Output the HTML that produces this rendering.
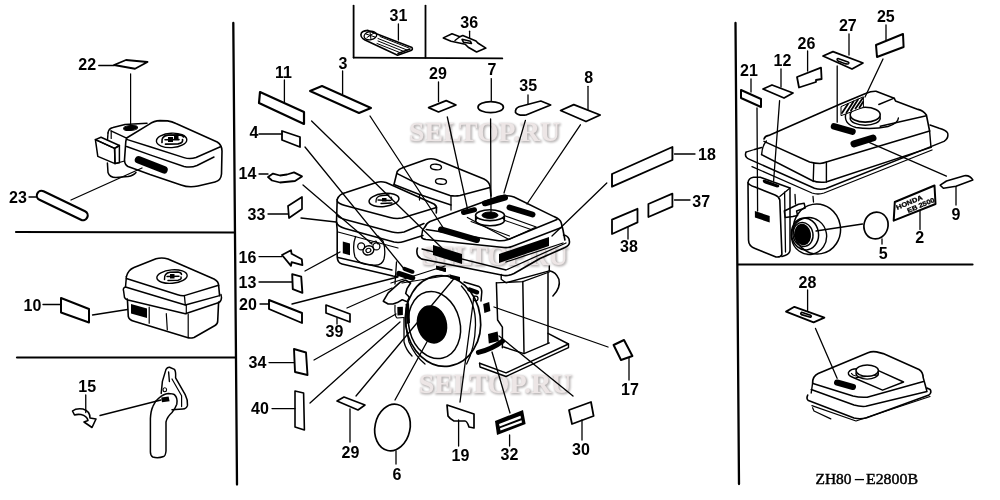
<!DOCTYPE html><html><head><meta charset="utf-8"><style>
html,body{margin:0;padding:0;background:#fff;}
svg{display:block;will-change:transform;}
.lb{font-family:"Liberation Sans",sans-serif;fill:#000;}
.lb{font-weight:bold;}
</style></head><body>
<svg width="1000" height="500" viewBox="0 0 1000 500">
<rect width="1000" height="500" fill="#fff"/>
<defs><filter id="bl" x="-10%" y="-30%" width="120%" height="160%"><feGaussianBlur stdDeviation="1.2"/></filter></defs>
<g font-family="Liberation Serif" font-weight="bold" font-size="28">
<text x="410" y="142.4" textLength="151" lengthAdjust="spacingAndGlyphs" fill="#b4b0b0" stroke="#b4b0b0" stroke-width="1.2" filter="url(#bl)">SELTOP.RU</text>
<text x="422.8" y="265.7" textLength="146" lengthAdjust="spacingAndGlyphs" fill="#b4b0b0" stroke="#b4b0b0" stroke-width="1.2" filter="url(#bl)">SELTOP.RU</text>
<text x="419.7" y="393.5" textLength="153" lengthAdjust="spacingAndGlyphs" fill="#b4b0b0" stroke="#b4b0b0" stroke-width="1.2" filter="url(#bl)">SELTOP.RU</text>
<text x="409" y="141.4" textLength="151" lengthAdjust="spacingAndGlyphs" fill="#ede6e6">SELTOP.RU</text>
<text x="421.8" y="264.7" textLength="146" lengthAdjust="spacingAndGlyphs" fill="#ede6e6">SELTOP.RU</text>
<text x="418.7" y="392.5" textLength="153" lengthAdjust="spacingAndGlyphs" fill="#ede6e6">SELTOP.RU</text>
</g>
<g font-family="Liberation Serif" font-size="15.5" fill="#000" stroke="#000" stroke-width="0.45">
<text x="815.5" y="484.1" textLength="36" lengthAdjust="spacingAndGlyphs">ZH80</text>
<text x="866" y="484.1" textLength="52" lengthAdjust="spacingAndGlyphs">E2800B</text>
</g>
<line x1="854.8" y1="479.6" x2="864" y2="479.6" stroke="#000" stroke-width="1.3"/>
<line x1="233.3" y1="23" x2="237" y2="484.5" stroke="#000" stroke-width="2.3" stroke-linecap="round"/>
<line x1="735.5" y1="23" x2="739" y2="484" stroke="#000" stroke-width="2.3" stroke-linecap="round"/>
<line x1="16" y1="232" x2="234" y2="232.5" stroke="#000" stroke-width="2.2" stroke-linecap="round"/>
<line x1="17" y1="357.5" x2="235" y2="357.5" stroke="#000" stroke-width="2.2" stroke-linecap="round"/>
<line x1="738" y1="264.5" x2="972.5" y2="264.5" stroke="#000" stroke-width="2.2" stroke-linecap="round"/>
<line x1="353.6" y1="5.6" x2="353.6" y2="57.6" stroke="#000" stroke-width="1.8" stroke-linecap="round"/>
<line x1="425.5" y1="5.6" x2="425.5" y2="57.6" stroke="#000" stroke-width="1.8" stroke-linecap="round"/>
<line x1="353.6" y1="57.6" x2="502.3" y2="58.4" stroke="#000" stroke-width="1.8" stroke-linecap="round"/>
<text x="87.2" y="70" text-anchor="middle" class="lb" font-size="16">22</text>
<text x="18.0" y="203" text-anchor="middle" class="lb" font-size="16">23</text>
<text x="32.5" y="311" text-anchor="middle" class="lb" font-size="16">10</text>
<text x="87.2" y="392" text-anchor="middle" class="lb" font-size="16">15</text>
<text x="398.4" y="20.8" text-anchor="middle" class="lb" font-size="16">31</text>
<text x="469.2" y="28" text-anchor="middle" class="lb" font-size="16">36</text>
<text x="283.5" y="78" text-anchor="middle" class="lb" font-size="16">11</text>
<text x="343.0" y="69" text-anchor="middle" class="lb" font-size="16">3</text>
<text x="254.0" y="138" text-anchor="middle" class="lb" font-size="16">4</text>
<text x="247.5" y="179" text-anchor="middle" class="lb" font-size="16">14</text>
<text x="256.5" y="220" text-anchor="middle" class="lb" font-size="16">33</text>
<text x="247.5" y="263.4" text-anchor="middle" class="lb" font-size="16">16</text>
<text x="247.5" y="288" text-anchor="middle" class="lb" font-size="16">13</text>
<text x="248.0" y="310" text-anchor="middle" class="lb" font-size="16">20</text>
<text x="334.5" y="337" text-anchor="middle" class="lb" font-size="16">39</text>
<text x="257.5" y="368" text-anchor="middle" class="lb" font-size="16">34</text>
<text x="260.0" y="414" text-anchor="middle" class="lb" font-size="16">40</text>
<text x="350.5" y="458" text-anchor="middle" class="lb" font-size="16">29</text>
<text x="397.0" y="480" text-anchor="middle" class="lb" font-size="16">6</text>
<text x="460.5" y="461" text-anchor="middle" class="lb" font-size="16">19</text>
<text x="509.5" y="460" text-anchor="middle" class="lb" font-size="16">32</text>
<text x="581.0" y="455" text-anchor="middle" class="lb" font-size="16">30</text>
<text x="630.0" y="395" text-anchor="middle" class="lb" font-size="16">17</text>
<text x="707.0" y="160" text-anchor="middle" class="lb" font-size="16">18</text>
<text x="701.2" y="206.7" text-anchor="middle" class="lb" font-size="16">37</text>
<text x="629.0" y="252" text-anchor="middle" class="lb" font-size="16">38</text>
<text x="437.9" y="78.6" text-anchor="middle" class="lb" font-size="16">29</text>
<text x="491.9" y="75.3" text-anchor="middle" class="lb" font-size="16">7</text>
<text x="528.2" y="90.7" text-anchor="middle" class="lb" font-size="16">35</text>
<text x="588.7" y="83" text-anchor="middle" class="lb" font-size="16">8</text>
<text x="749.0" y="76" text-anchor="middle" class="lb" font-size="16">21</text>
<text x="782.5" y="66" text-anchor="middle" class="lb" font-size="16">12</text>
<text x="806.5" y="49" text-anchor="middle" class="lb" font-size="16">26</text>
<text x="847.8" y="31" text-anchor="middle" class="lb" font-size="16">27</text>
<text x="885.8" y="22" text-anchor="middle" class="lb" font-size="16">25</text>
<text x="956.0" y="220" text-anchor="middle" class="lb" font-size="16">9</text>
<text x="919.7" y="243" text-anchor="middle" class="lb" font-size="16">2</text>
<text x="883.2" y="259.4" text-anchor="middle" class="lb" font-size="16">5</text>
<text x="807.5" y="287.6" text-anchor="middle" class="lb" font-size="16">28</text>
<line x1="98.75" y1="65.5" x2="114" y2="65.5" stroke="#000" stroke-width="1.3" stroke-linecap="round"/>
<line x1="43" y1="304.5" x2="61" y2="304.5" stroke="#000" stroke-width="1.3" stroke-linecap="round"/>
<line x1="85.75" y1="395" x2="85.75" y2="412.5" stroke="#000" stroke-width="1.3" stroke-linecap="round"/>
<line x1="398.4" y1="24" x2="398.4" y2="40" stroke="#000" stroke-width="1.3" stroke-linecap="round"/>
<line x1="469.6" y1="31.2" x2="469.6" y2="38.4" stroke="#000" stroke-width="1.3" stroke-linecap="round"/>
<line x1="284.4" y1="80" x2="284.4" y2="102" stroke="#000" stroke-width="1.3" stroke-linecap="round"/>
<line x1="342.6" y1="71" x2="342.6" y2="94" stroke="#000" stroke-width="1.3" stroke-linecap="round"/>
<line x1="259" y1="134" x2="282" y2="134" stroke="#000" stroke-width="1.3" stroke-linecap="round"/>
<line x1="259" y1="174" x2="268" y2="174" stroke="#000" stroke-width="1.3" stroke-linecap="round"/>
<line x1="268" y1="214" x2="288" y2="214" stroke="#000" stroke-width="1.3" stroke-linecap="round"/>
<line x1="259" y1="256.6" x2="282" y2="256.6" stroke="#000" stroke-width="1.3" stroke-linecap="round"/>
<line x1="259" y1="282" x2="292" y2="282" stroke="#000" stroke-width="1.3" stroke-linecap="round"/>
<line x1="260" y1="304" x2="269" y2="304" stroke="#000" stroke-width="1.3" stroke-linecap="round"/>
<line x1="337" y1="318" x2="337" y2="324" stroke="#000" stroke-width="1.3" stroke-linecap="round"/>
<line x1="269" y1="362.6" x2="294" y2="362.6" stroke="#000" stroke-width="1.3" stroke-linecap="round"/>
<line x1="272" y1="408.6" x2="295" y2="408.6" stroke="#000" stroke-width="1.3" stroke-linecap="round"/>
<line x1="350" y1="409" x2="350" y2="442" stroke="#000" stroke-width="1.3" stroke-linecap="round"/>
<line x1="396" y1="451" x2="396" y2="464" stroke="#000" stroke-width="1.3" stroke-linecap="round"/>
<line x1="458.6" y1="420" x2="458.6" y2="446" stroke="#000" stroke-width="1.3" stroke-linecap="round"/>
<line x1="509.6" y1="435" x2="509.6" y2="446" stroke="#000" stroke-width="1.3" stroke-linecap="round"/>
<line x1="582" y1="420" x2="582" y2="440" stroke="#000" stroke-width="1.3" stroke-linecap="round"/>
<line x1="629" y1="358" x2="629" y2="380" stroke="#000" stroke-width="1.3" stroke-linecap="round"/>
<line x1="674.5" y1="154" x2="695" y2="154" stroke="#000" stroke-width="1.3" stroke-linecap="round"/>
<line x1="674.5" y1="200" x2="690" y2="200" stroke="#000" stroke-width="1.3" stroke-linecap="round"/>
<line x1="628" y1="227.5" x2="628" y2="239" stroke="#000" stroke-width="1.3" stroke-linecap="round"/>
<line x1="438.5" y1="82" x2="438.5" y2="101.7" stroke="#000" stroke-width="1.3" stroke-linecap="round"/>
<line x1="491.3" y1="78.6" x2="491.3" y2="100.6" stroke="#000" stroke-width="1.3" stroke-linecap="round"/>
<line x1="528" y1="95" x2="528" y2="104" stroke="#000" stroke-width="1.3" stroke-linecap="round"/>
<line x1="588" y1="86.3" x2="588" y2="109.4" stroke="#000" stroke-width="1.3" stroke-linecap="round"/>
<line x1="751" y1="79" x2="751" y2="92" stroke="#000" stroke-width="1.3" stroke-linecap="round"/>
<line x1="781" y1="69" x2="781" y2="87" stroke="#000" stroke-width="1.3" stroke-linecap="round"/>
<line x1="807.6" y1="51" x2="807.6" y2="71" stroke="#000" stroke-width="1.3" stroke-linecap="round"/>
<line x1="849" y1="34" x2="849" y2="55" stroke="#000" stroke-width="1.3" stroke-linecap="round"/>
<line x1="886" y1="25" x2="886" y2="40" stroke="#000" stroke-width="1.3" stroke-linecap="round"/>
<line x1="956" y1="186.5" x2="956" y2="205" stroke="#000" stroke-width="1.3" stroke-linecap="round"/>
<line x1="920" y1="210.7" x2="920" y2="229.6" stroke="#000" stroke-width="1.3" stroke-linecap="round"/>
<line x1="882" y1="239" x2="882" y2="244" stroke="#000" stroke-width="1.3" stroke-linecap="round"/>
<line x1="807.6" y1="290" x2="807.6" y2="310.4" stroke="#000" stroke-width="1.3" stroke-linecap="round"/>
<polygon points="114,65 126,60 147.5,62 135,68.75" fill="none" stroke="#000" stroke-width="1.8" stroke-linejoin="round" />
<polygon points="61,298 89,309 89,322.5 61,312.5" fill="none" stroke="#000" stroke-width="2.0" stroke-linejoin="round" />
<polygon points="260,92 304,112 304,124 259,103" fill="none" stroke="#000" stroke-width="2.2" stroke-linejoin="round" />
<polygon points="310,91 322,86 371,108 359,113" fill="none" stroke="#000" stroke-width="2.0" stroke-linejoin="round" />
<polygon points="282,131 300,137 300,147 282,140" fill="none" stroke="#000" stroke-width="1.8" stroke-linejoin="round" />
<polygon points="282,255 291,250.2 291.6,253.8 301.8,259.2 302.4,265.2 291.6,262.2 291,265.8" fill="none" stroke="#000" stroke-width="1.8" stroke-linejoin="round" />
<polygon points="292.2,274.2 301.2,276.6 302.4,292.8 292.8,289.2" fill="none" stroke="#000" stroke-width="1.9" stroke-linejoin="round" />
<polygon points="269,300 302,313 302,323 269,309" fill="none" stroke="#000" stroke-width="1.9" stroke-linejoin="round" />
<polygon points="326,305 350,314 350,322 326,313" fill="none" stroke="#000" stroke-width="1.7" stroke-linejoin="round" />
<polygon points="294,349 306,352.5 307.5,375 295,372" fill="none" stroke="#000" stroke-width="1.9" stroke-linejoin="round" />
<polygon points="295,391 303.6,393 304.4,430 295,427" fill="none" stroke="#000" stroke-width="1.6" stroke-linejoin="round" />
<polygon points="337,401 344,397 365,405 358,410" fill="none" stroke="#000" stroke-width="1.6" stroke-linejoin="round" />
<polygon points="288,206 302,197 302,209 289,218" fill="none" stroke="#000" stroke-width="1.7" stroke-linejoin="round" />
<polygon points="613.6,345 624,340 632.4,356 621,360" fill="none" stroke="#000" stroke-width="2.0" stroke-linejoin="round" />
<polygon points="612,174 672.4,147 672.4,160 612,186.7" fill="none" stroke="#000" stroke-width="1.9" stroke-linejoin="round" />
<polygon points="648.4,204 672.4,193.7 672.4,206.7 648.4,217" fill="none" stroke="#000" stroke-width="1.8" stroke-linejoin="round" />
<polygon points="612,219.7 637.5,208.8 637.5,222.4 612,234" fill="none" stroke="#000" stroke-width="1.8" stroke-linejoin="round" />
<polygon points="428.6,107.6 446.2,100.6 456,105 438.5,112" fill="none" stroke="#000" stroke-width="1.7" stroke-linejoin="round" />
<ellipse cx="490.7" cy="107.2" rx="12.7" ry="5.5" transform="rotate(0 490.7 107.2)" fill="none" stroke="#000" stroke-width="1.7"/>
<path d="M519,106.8 L540.8,101 L550.7,105 L526,115 Q518,116 515.5,112.5 Q515,108.5 519,106.8 Z" fill="none" stroke="#000" stroke-width="1.7" stroke-linejoin="round" stroke-linecap="round" />
<polygon points="560.6,110.5 573.8,104.6 600.2,115 586,121.5" fill="none" stroke="#000" stroke-width="1.8" stroke-linejoin="round" />
<polygon points="569,410 591,402 593.6,416 572,424" fill="none" stroke="#000" stroke-width="1.8" stroke-linejoin="round" />
<polygon points="741,90 761,99 761,107 741,98" fill="none" stroke="#000" stroke-width="2.0" stroke-linejoin="round" />
<polygon points="763,89 772,85 793,93 784,98" fill="none" stroke="#000" stroke-width="1.8" stroke-linejoin="round" />
<path d="M797,77 L821,67.6 L821.6,79 L816,80 L816,82 L799,87.5 Z" fill="none" stroke="#000" stroke-width="1.8" stroke-linejoin="round" stroke-linecap="round" />
<polygon points="823,56 833,51.6 863,63 852,69" fill="none" stroke="#000" stroke-width="1.8" stroke-linejoin="round" />
<path d="M838,58.5 L848,62 Q850,63 848,64 Q846,64.5 838,61 Q836,59 838,58.5 Z" fill="none" stroke="#000" stroke-width="1.4" stroke-linejoin="round" stroke-linecap="round" />
<polygon points="876,45 903,34 903.6,47 877,57" fill="none" stroke="#000" stroke-width="2.0" stroke-linejoin="round" />
<polygon points="786,311.6 794.4,306.8 824.4,317.6 813.6,322.4" fill="none" stroke="#000" stroke-width="1.8" stroke-linejoin="round" />
<path d="M801.5,312.3 L810.5,315.2 Q812,316.5 810.5,317.2 L801.5,314.6 Q800,313.5 801.5,312.3 Z" fill="none" stroke="#000" stroke-width="1.7" stroke-linejoin="round" stroke-linecap="round" />
<ellipse cx="392.5" cy="427.5" rx="17.5" ry="23.5" transform="rotate(12 392.5 427.5)" fill="none" stroke="#000" stroke-width="1.7"/>
<ellipse cx="876" cy="225.5" rx="12" ry="13.5" transform="rotate(15 876 225.5)" fill="none" stroke="#000" stroke-width="1.7"/>
<line x1="130.6" y1="73.75" x2="130.6" y2="126" stroke="#000" stroke-width="1.2" stroke-linecap="round"/>
<path d="M126.6,138 L149,124.4 Q154,120.6 160,120.6 L167.6,120.9 Q172,121.5 176,123.5 L217.2,142 Q222,145 222,151 L221.5,174 Q221,180.5 215,182 L198,186 Q189,188 181,185 L150,174.5 L128,166.5 Q124.5,164.5 124.5,160 L125.8,141.5 Z" fill="none" stroke="#000" stroke-width="1.6" stroke-linejoin="round" stroke-linecap="round" />
<path d="M127.4,139.6 L150,146.8 L184,157.6 Q190,159.5 196,157.5 L221,146.5" fill="none" stroke="#000" stroke-width="1.5" stroke-linejoin="round" stroke-linecap="round" />
<path d="M126.6,146.5 L150,154.8 L184,166.5 Q191,168 197,165.5 L214,157" fill="none" stroke="#000" stroke-width="1.4" stroke-linejoin="round" stroke-linecap="round" />
<line x1="138.5" y1="159.8" x2="164" y2="169.8" stroke="#000" stroke-width="7.5" stroke-linecap="round"/>
<path d="M156,167.5 L163,170" fill="none" stroke="#000" stroke-width="1.5" stroke-linejoin="round" stroke-linecap="round" stroke="#555"/>
<ellipse cx="171.6" cy="140.4" rx="15.2" ry="7.2" transform="rotate(-3 171.6 140.4)" fill="none" stroke="#000" stroke-width="1.4"/>
<path d="M162,142.5 Q161,136 168,135.2 L178,134.8 Q183,135 183.5,137" fill="none" stroke="#000" stroke-width="1.7" stroke-linejoin="round" stroke-linecap="round" />
<path d="M165,139.8 L179,139.6" fill="none" stroke="#000" stroke-width="1.6" stroke-linejoin="round" stroke-linecap="round" />
<path d="M165.5,144.2 L178,143.8 Q183.5,143 182.5,139.5" fill="none" stroke="#000" stroke-width="1.7" stroke-linejoin="round" stroke-linecap="round" />
<path d="M168,137 L173,137 L173,142 L168,142 Z" fill="#000" stroke="none"/>
<path d="M174,136 L178.5,136 L178.5,139.5 L174,139.5 Z" fill="#000" stroke="none"/>
<path d="M108,133 Q108.5,128.5 113,127.5 L125,124.4 L147,123.2" fill="none" stroke="#000" stroke-width="1.5" stroke-linejoin="round" stroke-linecap="round" />
<path d="M111,130.8 L126.6,138.2" fill="none" stroke="#000" stroke-width="1.4" stroke-linejoin="round" stroke-linecap="round" />
<path d="M108,133 L107.5,140" fill="none" stroke="#000" stroke-width="1.4" stroke-linejoin="round" stroke-linecap="round" />
<path d="M111.2,131 L111.2,138.5" fill="none" stroke="#000" stroke-width="1.2" stroke-linejoin="round" stroke-linecap="round" />
<ellipse cx="130.6" cy="128" rx="7" ry="2.5" transform="rotate(-5 130.6 128)" fill="#000" stroke="#000" stroke-width="1"/>
<path d="M107.4,163 L108,172.5 Q109.5,177.5 116,177.5 L128,176.6 Q133.5,175.5 136,172.5" fill="none" stroke="#000" stroke-width="1.5" stroke-linejoin="round" stroke-linecap="round" />
<path d="M115,163.6 L124.6,161" fill="none" stroke="#000" stroke-width="1.2" stroke-linejoin="round" stroke-linecap="round" />
<polygon points="95.4,139.6 101,137.2 119.4,145.5 114.6,148.4" fill="none" stroke="#000" stroke-width="1.5" stroke-linejoin="round" />
<polygon points="95.4,139.6 114.6,148.4 115,163.6 97.8,156.4" fill="none" stroke="#000" stroke-width="1.5" stroke-linejoin="round" />
<polygon points="114.6,148.4 119.4,145.5 119.4,162.8 115,163.6" fill="none" stroke="#000" stroke-width="1.5" stroke-linejoin="round" />
<line x1="71" y1="200" x2="142" y2="168" stroke="#000" stroke-width="1.3" stroke-linecap="round"/>
<line x1="41.5" y1="195.5" x2="83" y2="215.5" stroke="#000" stroke-width="11.5" stroke-linecap="round"/>
<line x1="41.5" y1="195.5" x2="83" y2="215.5" stroke="#fff" stroke-width="7.2" stroke-linecap="round"/>
<line x1="29" y1="197" x2="36" y2="197" stroke="#000" stroke-width="1.4" stroke-linecap="round"/>
<path d="M126.4,276.6 Q128,270 134,267.5 L156,258.8 Q162,257 168,259 L214,279 Q218.6,281.5 218.6,285.2 L219.6,295.6" fill="none" stroke="#000" stroke-width="1.6" stroke-linejoin="round" stroke-linecap="round" />
<path d="M126.4,278.5 L177.7,294.7 Q181,295.8 184.4,295.6 L218.6,285.2" fill="none" stroke="#000" stroke-width="1.5" stroke-linejoin="round" stroke-linecap="round" />
<path d="M126.4,276.6 L125.5,287 L185.3,305 L219.6,295.6" fill="none" stroke="#000" stroke-width="1.5" stroke-linejoin="round" stroke-linecap="round" />
<path d="M184.4,295.6 L185.3,305" fill="none" stroke="#000" stroke-width="1.3" stroke-linejoin="round" stroke-linecap="round" />
<path d="M125.5,287 Q122.5,288 123.6,291 L124.5,297.5 Q125,299 128,300 L185.3,313.7 L219,302.5 Q221.5,301 221.5,297.5 L221,294.5" fill="none" stroke="#000" stroke-width="1.5" stroke-linejoin="round" stroke-linecap="round" />
<path d="M186.3,305 L186.3,313.7" fill="none" stroke="#000" stroke-width="1.2" stroke-linejoin="round" stroke-linecap="round" />
<path d="M127.4,299 L128.3,316.5 Q129,320 134,321.3 L187.2,337.5 Q190,338.6 194,337.5 L215,325.5 Q217.7,324 217.7,321 L218.6,302" fill="none" stroke="#000" stroke-width="1.6" stroke-linejoin="round" stroke-linecap="round" />
<path d="M149.2,307 L149.2,323.2 M166.3,313.7 L167.3,329.8 M188.2,314 L188.2,337.5" fill="none" stroke="#000" stroke-width="1.2" stroke-linejoin="round" stroke-linecap="round" />
<path d="M131,304 L147,308.5 L147,318 L131,313.5 Z" fill="#000" stroke="none"/>
<ellipse cx="172" cy="276.6" rx="15.2" ry="6.7" transform="rotate(-5 172 276.6)" fill="none" stroke="#000" stroke-width="1.4"/>
<path d="M164.5,279.5 Q164,273 170,272.3 L178,272 Q181.5,272.5 181.5,274.5" fill="none" stroke="#000" stroke-width="1.5" stroke-linejoin="round" stroke-linecap="round" />
<path d="M167,276.5 L179,276.3" fill="none" stroke="#000" stroke-width="1.4" stroke-linejoin="round" stroke-linecap="round" />
<path d="M168,280.5 L178,280.2 Q182,279.5 181,277" fill="none" stroke="#000" stroke-width="1.5" stroke-linejoin="round" stroke-linecap="round" />
<path d="M170,274 L174.5,274 L174.5,278.5 L170,278.5 Z" fill="#000" stroke="none"/>
<line x1="92.5" y1="315" x2="127.5" y2="309.5" stroke="#000" stroke-width="1.3" stroke-linecap="round"/>
<path d="M161.2,393.4 L162.4,381.4 L166,369.4 Q167.5,367 169.6,367.3 L174.4,369.4 Q176,371 175.6,377.8 L185.2,394.6 Q188,400 187.5,405.4 Q186.5,409 182.8,409 L172,409.7" fill="none" stroke="#000" stroke-width="1.5" stroke-linejoin="round" stroke-linecap="round" />
<path d="M168.6,372 L169.4,381.5" fill="none" stroke="#000" stroke-width="1.4" stroke-linejoin="round" stroke-linecap="round" />
<path d="M172,379 L181.6,395.8 L181.6,406.6" fill="none" stroke="#000" stroke-width="1.2" stroke-linejoin="round" stroke-linecap="round" />
<ellipse cx="164.8" cy="389.8" rx="1.8" ry="2.0" transform="rotate(0 164.8 389.8)" fill="none" stroke="#000" stroke-width="1.1"/>
<path d="M150.4,452 L150.4,418.5 Q150.8,411 152.8,406.6 Q155,401 158.8,398.2 Q163,394 168.4,393.4 Q173,393.5 174.4,394.6 Q178,398 176.8,404.2 Q175,409 172,412.5 Q167,417 166,422 L166,451 Q165.5,456 163.6,456.5 Q158,458.5 152.8,457 Q150.4,455.5 150.4,452 Z" fill="none" stroke="#000" stroke-width="1.5" stroke-linejoin="round" stroke-linecap="round" />
<path d="M161.2,397.5 L168.6,396.5 L169.6,401.3 L162,402.3 Z" fill="#000" stroke="none"/>
<line x1="100" y1="415.5" x2="161" y2="400" stroke="#000" stroke-width="1.3" stroke-linecap="round"/>
<path d="M72.5,411 Q76,408 83,409 Q90,411 90,418 L96,419 L92,427.5 L84,422 L88,420.5 Q87,416 81,414.5 Q77,414 74.5,415 Z" fill="none" stroke="#000" stroke-width="1.6" stroke-linejoin="round" stroke-linecap="round" />
<path d="M361,34.5 Q361,31 368,30.4 L412,47.5 Q413,49.5 411,50.5 L397.6,55.2 L365,40 Q360.5,37.5 361,34.5 Z" fill="none" stroke="#000" stroke-width="1.6" stroke-linejoin="round" stroke-linecap="round" />
<ellipse cx="370.4" cy="35.6" rx="6.4" ry="4.2" transform="rotate(-12 370.4 35.6)" fill="none" stroke="#000" stroke-width="1.3"/>
<path d="M366,34 L375,37 M370,32 L371,39.5 M367,37.5 L374,33" fill="none" stroke="#000" stroke-width="1.0" stroke-linejoin="round" stroke-linecap="round" />
<path d="M378,38.5 L407,50 M378,41 L404,51.5 M377,43.5 L401,53 M380,36.5 L409,48" fill="none" stroke="#000" stroke-width="1.0" stroke-linejoin="round" stroke-linecap="round" />
<path d="M398,53.5 L410,49" fill="none" stroke="#000" stroke-width="1.6" stroke-linejoin="round" stroke-linecap="round" />
<path d="M443.3,37.9 L452,33.7 L459.8,36.7 L462.8,35.5 L476,40.9 L477.8,43 L485.9,48.1 L476.6,52 L468.2,47.2 L465.2,44.2 L451.1,41.2 Z" fill="none" stroke="#000" stroke-width="1.6" stroke-linejoin="round" stroke-linecap="round" />
<path d="M459.8,36.7 L455,40.5" fill="none" stroke="#000" stroke-width="1.4" stroke-linejoin="round" stroke-linecap="round" />
<path d="M462,39.3 L470.5,41.2 L471.5,43.5 L463.5,42.3 Z" fill="none" stroke="#000" stroke-width="1.5" stroke-linejoin="round" stroke-linecap="round" />
<path d="M394,184.5 L397.2,171.5 Q399,168.8 402,168 L426,159.5 Q431,158 436,159.5 L484,179 Q489,181.5 490,186 L491,196" fill="none" stroke="#000" stroke-width="1.6" stroke-linejoin="round" stroke-linecap="round" />
<path d="M397.2,173.6 L420,185 L450,195.5 Q455,196.5 460,195.5 L490,187.5" fill="none" stroke="#000" stroke-width="1.5" stroke-linejoin="round" stroke-linecap="round" />
<path d="M394,184.5 L419.5,194.5 L451,205" fill="none" stroke="#000" stroke-width="1.4" stroke-linejoin="round" stroke-linecap="round" />
<path d="M451,196 L451,210 M419.5,194.5 L419.5,200" fill="none" stroke="#000" stroke-width="1.3" stroke-linejoin="round" stroke-linecap="round" />
<ellipse cx="436" cy="167" rx="5.5" ry="2.8" transform="rotate(5 436 167)" fill="none" stroke="#000" stroke-width="1.4"/>
<ellipse cx="441" cy="181.5" rx="5.5" ry="2.8" transform="rotate(5 441 181.5)" fill="none" stroke="#000" stroke-width="1.4"/>
<path d="M337.2,199.5 Q339,194 346,192.5 L376.4,182.4 Q381,181 386,182.5 L434,204 Q437,206 436.5,209 L436.3,213" fill="none" stroke="#000" stroke-width="1.6" stroke-linejoin="round" stroke-linecap="round" />
<path d="M337.2,201 Q338,203.5 345,205.5 L390,217.5 Q396,219 402,218 L436.5,207.5" fill="none" stroke="#000" stroke-width="1.5" stroke-linejoin="round" stroke-linecap="round" />
<path d="M336.5,214 Q337.5,217.5 345,219.5 L392,232 Q398,233.5 404,232 L424,223.5" fill="none" stroke="#000" stroke-width="1.5" stroke-linejoin="round" stroke-linecap="round" />
<path d="M336.5,222 Q337.5,226.5 345,228.5 L394,242 Q399,243 404,241.5 L423,235.5" fill="none" stroke="#000" stroke-width="1.5" stroke-linejoin="round" stroke-linecap="round" />
<path d="M337.2,199.5 L336.5,222 L337.2,230 L337.2,257 Q337.5,263 342,264 L393,276 Q396,276.5 398,276" fill="none" stroke="#000" stroke-width="1.6" stroke-linejoin="round" stroke-linecap="round" />
<path d="M338,257.5 L392,270" fill="none" stroke="#000" stroke-width="1.3" stroke-linejoin="round" stroke-linecap="round" />
<path d="M338,232 L398,248" fill="none" stroke="#000" stroke-width="1.2" stroke-linejoin="round" stroke-linecap="round" />
<path d="M342.8,241.6 L350,243.5 L350,255.2 L342.8,253.3 Z" fill="#000" stroke="none"/>
<ellipse cx="384" cy="200" rx="15" ry="6.5" transform="rotate(-6 384 200)" fill="none" stroke="#000" stroke-width="1.5"/>
<path d="M376,202 Q375.5,196 382,195.5 L389,195 M378,200 L390,200.5 Q393,200 391,197 M381,203.5 L392,203" fill="none" stroke="#000" stroke-width="1.3" stroke-linejoin="round" stroke-linecap="round" />
<path d="M382,198 L386.5,198 L386.5,201.5 L382,201.5 Z" fill="#000" stroke="none"/>
<path d="M355.6,236.5 Q352,246 355,257 Q359,265 372,265 Q382,266.5 384,259 Q386,250 383,241 L378,236" fill="none" stroke="#000" stroke-width="1.3" stroke-linejoin="round" stroke-linecap="round" />
<ellipse cx="368.4" cy="250.4" rx="5.5" ry="4.5" transform="rotate(-20 368.4 250.4)" fill="none" stroke="#000" stroke-width="1.4"/>
<ellipse cx="368.4" cy="250.4" rx="2.5" ry="2" transform="rotate(-20 368.4 250.4)" fill="none" stroke="#000" stroke-width="1.2"/>
<ellipse cx="361.2" cy="246.4" rx="3.5" ry="3.5" transform="rotate(0 361.2 246.4)" fill="none" stroke="#000" stroke-width="1.3"/>
<ellipse cx="376.4" cy="246.4" rx="3.5" ry="3.5" transform="rotate(0 376.4 246.4)" fill="none" stroke="#000" stroke-width="1.3"/>
<path d="M370,243 L376,241 L378,244" fill="none" stroke="#000" stroke-width="1.2" stroke-linejoin="round" stroke-linecap="round" />
<path d="M425.3,226.5 Q426,223.5 430,221.5 L492.8,198.6 Q498,196 503.6,195.5 Q510,195.5 514,197 L554,216.6 Q560.5,219.5 561.3,223 L563,230 L564.9,240" fill="none" stroke="#000" stroke-width="1.6" stroke-linejoin="round" stroke-linecap="round" />
<path d="M426.2,229.5 L497,240.5 Q503,241.5 508.2,239.5 L557,219.5" fill="none" stroke="#000" stroke-width="1.5" stroke-linejoin="round" stroke-linecap="round" />
<path d="M425.3,226.5 L422.6,230 L421.5,237 Q422,239 426,239.5 L504,247.5 Q508,248 512,246.5 L561.5,227.5" fill="none" stroke="#000" stroke-width="1.5" stroke-linejoin="round" stroke-linecap="round" />
<path d="M417.5,248 Q416,252 418,256 Q420,259 424,259.5 L504,275.5 Q509,276 514,273.5 L540,258.5 L565,247.5 Q569.5,245.5 569.5,242 L569,239 Q567.5,235.5 563.5,235" fill="none" stroke="#000" stroke-width="1.6" stroke-linejoin="round" stroke-linecap="round" />
<path d="M506,262 L563,243" fill="none" stroke="#000" stroke-width="1.3" stroke-linejoin="round" stroke-linecap="round" />
<path d="M422,249 L506,270 L566,243" fill="none" stroke="#000" stroke-width="1.3" stroke-linejoin="round" stroke-linecap="round" />
<path d="M467.4,217.5 L509,239.5 L536.2,227 L505.4,216" fill="none" stroke="#000" stroke-width="1.3" stroke-linejoin="round" stroke-linecap="round" />
<path d="M471,221.5 L509.5,236 M505,220.5 L531,229.5" fill="none" stroke="#000" stroke-width="1.1" stroke-linejoin="round" stroke-linecap="round" />
<ellipse cx="490" cy="220.5" rx="14.4" ry="5.2" transform="rotate(0 490 220.5)" fill="none" stroke="#000" stroke-width="1.5"/>
<path d="M475.6,215.2 L475.6,220.5 M504.4,215.2 L504.4,220.5" fill="none" stroke="#000" stroke-width="1.4" stroke-linejoin="round" stroke-linecap="round" />
<ellipse cx="490" cy="215.2" rx="14.4" ry="5.4" transform="rotate(0 490 215.2)" fill="#fff" stroke="#000" stroke-width="1.6"/>
<ellipse cx="490" cy="215.2" rx="8" ry="3.2" transform="rotate(0 490 215.2)" fill="#000" stroke="#000" stroke-width="1"/>
<line x1="463.5" y1="212.5" x2="474.5" y2="209.8" stroke="#000" stroke-width="5" stroke-linecap="round"/>
<line x1="485" y1="203.3" x2="505" y2="197.5" stroke="#000" stroke-width="6" stroke-linecap="round"/>
<line x1="509.5" y1="207.5" x2="532.5" y2="214.5" stroke="#000" stroke-width="6" stroke-linecap="round"/>
<line x1="441" y1="229.5" x2="477" y2="240" stroke="#000" stroke-width="6" stroke-linecap="round"/>
<path d="M433,245 L462,254 L462,264 L433,255 Z" fill="#000" stroke="none"/>
<path d="M499,254 L549,237 L549,246 L499,263 Z" fill="#000" stroke="none"/>
<path d="M436,265.5 L446,268 L446,272 L436,269.5 Z" fill="#000" stroke="none"/>
<path d="M450,274.5 L460,277 L460,281 L450,278.5 Z" fill="#000" stroke="none"/>
<path d="M501.2,274.4 L501.2,279.2 L506,282.8 L549.3,270.8 L549.3,266" fill="none" stroke="#000" stroke-width="1.4" stroke-linejoin="round" stroke-linecap="round" />
<path d="M496.4,282.8 L522.8,281.6 L549.3,272" fill="none" stroke="#000" stroke-width="1.3" stroke-linejoin="round" stroke-linecap="round" />
<path d="M496.4,282.8 L497.6,320 L502.4,327.2 L502.4,347.7" fill="none" stroke="#000" stroke-width="1.5" stroke-linejoin="round" stroke-linecap="round" />
<path d="M522.8,281.6 L524,352.5 M548,273.2 L548,342.9" fill="none" stroke="#000" stroke-width="1.5" stroke-linejoin="round" stroke-linecap="round" />
<path d="M549.3,270.8 Q556,272 558.9,279.2 Q561,288 552.9,296" fill="none" stroke="#000" stroke-width="1.5" stroke-linejoin="round" stroke-linecap="round" />
<path d="M479.6,363.3 L506,372.9 L568.5,344 L548,333.3" fill="none" stroke="#000" stroke-width="1.5" stroke-linejoin="round" stroke-linecap="round" />
<path d="M479.6,363.3 L480,367 L506,376.5 L568.5,347.7 L568.5,344" fill="none" stroke="#000" stroke-width="1.4" stroke-linejoin="round" stroke-linecap="round" />
<path d="M503.6,347 L524,353.7 L549.3,342.9" fill="none" stroke="#000" stroke-width="1.4" stroke-linejoin="round" stroke-linecap="round" />
<path d="M483.2,304 L489.2,302 L490.4,311 L484.4,313 Z" fill="#000" stroke="none"/>
<path d="M488,334 L497.6,331.5 L498.8,341 L488.8,343.5 Z" fill="#000" stroke="none"/>
<path d="M478.4,352.4 Q492,349 502.4,341.2" fill="none" stroke="#000" stroke-width="5" stroke-linejoin="round" stroke-linecap="round" />
<ellipse cx="443" cy="321" rx="37.5" ry="45.5" transform="rotate(-8 443 321)" fill="none" stroke="#000" stroke-width="1.7"/>
<ellipse cx="434.5" cy="325" rx="25.5" ry="34" transform="rotate(-14 434.5 325)" fill="none" stroke="#000" stroke-width="1.5"/>
<ellipse cx="432" cy="324.4" rx="15" ry="19.5" transform="rotate(-15 432 324.4)" fill="#000" stroke="#000" stroke-width="0"/>
<path d="M461.4,286 Q476,302 475.5,325 Q475,348 466.6,364" fill="none" stroke="#000" stroke-width="1.3" stroke-linejoin="round" stroke-linecap="round" />
<path d="M464,282 L479,286.5 Q482,288.5 481.8,292 L481,301" fill="none" stroke="#000" stroke-width="1.5" stroke-linejoin="round" stroke-linecap="round" />
<line x1="469.5" y1="289.5" x2="477" y2="292.3" stroke="#000" stroke-width="4.5" stroke-linecap="round"/>
<ellipse cx="475.7" cy="298.5" rx="2.3" ry="2.3" transform="rotate(0 475.7 298.5)" fill="none" stroke="#000" stroke-width="1.3"/>
<path d="M405.5,304 L409,303 L410,323 L406.5,324 Z" fill="#000" stroke="none"/>
<path d="M408,300 Q403,320 409,342 Q415,356 425,364" fill="none" stroke="#000" stroke-width="1.3" stroke-linejoin="round" stroke-linecap="round" />
<path d="M383.3,301.2 L388.2,292.8 L400,282.3 L405.7,280.2 L410.6,283 L407,288.6 L405.7,293.5 L409.2,297 L407.8,301.9 L402.2,299.8 L397.3,302.6 L393,304 L388.2,304 Z" fill="none" stroke="#000" stroke-width="1.6" stroke-linejoin="round" stroke-linecap="round" />
<path d="M397.3,307 L402.9,306.7 L402.9,315.1 L397.5,315.5 Z" fill="#000" stroke="none"/>
<path d="M395,305 Q394.5,317 397,318 L404,317.5" fill="none" stroke="#000" stroke-width="1.2" stroke-linejoin="round" stroke-linecap="round" />
<path d="M404,318 L404,342 Q406,350 412,356" fill="none" stroke="#000" stroke-width="1.3" stroke-linejoin="round" stroke-linecap="round" />
<path d="M396.5,262 L395,284" fill="none" stroke="#000" stroke-width="1.3" stroke-linejoin="round" stroke-linecap="round" />
<line x1="404.5" y1="268.8" x2="412.5" y2="271.8" stroke="#000" stroke-width="4" stroke-linecap="round"/>
<line x1="399" y1="273.5" x2="412.5" y2="278" stroke="#000" stroke-width="5.5" stroke-linecap="round"/>
<path d="M437.2,266.5 L445.2,269 L445.2,272 L437.2,269.5 Z" fill="#000" stroke="none"/>
<path d="M391,283 L420,274 L445,266" fill="none" stroke="#000" stroke-width="1.3" stroke-linejoin="round" stroke-linecap="round" />
<path d="M402,283 L450,275" fill="none" stroke="#000" stroke-width="1.2" stroke-linejoin="round" stroke-linecap="round" />
<line x1="311.6" y1="121" x2="444" y2="250" stroke="#000" stroke-width="1.3" stroke-linecap="round"/>
<line x1="370" y1="116" x2="444" y2="229" stroke="#000" stroke-width="1.3" stroke-linecap="round"/>
<line x1="305" y1="147" x2="405" y2="270" stroke="#000" stroke-width="1.3" stroke-linecap="round"/>
<line x1="303" y1="185" x2="372" y2="244" stroke="#000" stroke-width="1.3" stroke-linecap="round"/>
<line x1="301" y1="218" x2="336" y2="222" stroke="#000" stroke-width="1.3" stroke-linecap="round"/>
<line x1="305" y1="271" x2="340" y2="252" stroke="#000" stroke-width="1.3" stroke-linecap="round"/>
<line x1="292" y1="304" x2="398" y2="277" stroke="#000" stroke-width="1.3" stroke-linecap="round"/>
<line x1="347" y1="308" x2="392" y2="288" stroke="#000" stroke-width="1.3" stroke-linecap="round"/>
<line x1="314" y1="360" x2="396" y2="314" stroke="#000" stroke-width="1.3" stroke-linecap="round"/>
<line x1="310" y1="403" x2="400" y2="322" stroke="#000" stroke-width="1.3" stroke-linecap="round"/>
<line x1="356" y1="396" x2="454.5" y2="278" stroke="#000" stroke-width="1.3" stroke-linecap="round"/>
<line x1="395" y1="400" x2="428" y2="340" stroke="#000" stroke-width="1.3" stroke-linecap="round"/>
<line x1="460" y1="402" x2="474" y2="296" stroke="#000" stroke-width="1.3" stroke-linecap="round"/>
<line x1="510" y1="413" x2="492" y2="352" stroke="#000" stroke-width="1.3" stroke-linecap="round"/>
<line x1="573" y1="396" x2="499" y2="336" stroke="#000" stroke-width="1.3" stroke-linecap="round"/>
<line x1="608" y1="347" x2="494" y2="307" stroke="#000" stroke-width="1.3" stroke-linecap="round"/>
<line x1="606.8" y1="183" x2="552" y2="236" stroke="#000" stroke-width="1.3" stroke-linecap="round"/>
<line x1="580.4" y1="124.8" x2="527" y2="204" stroke="#000" stroke-width="1.3" stroke-linecap="round"/>
<line x1="525.4" y1="120.4" x2="504" y2="193" stroke="#000" stroke-width="1.3" stroke-linecap="round"/>
<line x1="490.6" y1="119" x2="491" y2="212" stroke="#000" stroke-width="1.3" stroke-linecap="round"/>
<line x1="447.3" y1="117" x2="467.6" y2="209.4" stroke="#000" stroke-width="1.3" stroke-linecap="round"/>
<polygon points="268,177 273,173.6 280,175.5 287,174.5 294,172.4 302,176.4 295,181 280,182.5 272,180.5" fill="none" stroke="#000" stroke-width="1.8" stroke-linejoin="round" />
<path d="M447,405 L474,414 L474,428 L469,427 Q467,421 465,421 L454,421 Q450,419 448,416 Z" fill="none" stroke="#000" stroke-width="1.7" stroke-linejoin="round" stroke-linecap="round" />
<path d="M495,421 L523,410 L525.6,424 L497,435 Z" fill="#000" stroke="none"/>
<path d="M499,424 L520.5,415.8 L521,418.3 L499.6,426.5 Z" fill="#fff" stroke="none"/>
<path d="M500,428.3 L521.5,420.3 L522,422.6 L500.5,430.6 Z" fill="#fff" stroke="none"/>
<path d="M764,139 Q765,136 768.8,135.4 L841,103.8 L866.2,93.3 Q871,91 876,91.2 L894.2,98.2 L895.5,101 L918,109.4 Q923,110.5 926.4,115 L929.6,131" fill="none" stroke="#000" stroke-width="1.6" stroke-linejoin="round" stroke-linecap="round" />
<path d="M894.2,98.2 L878.8,104.5" fill="none" stroke="#000" stroke-width="1.4" stroke-linejoin="round" stroke-linecap="round" />
<path d="M764,141.4 L809.6,162 Q815,163.5 820,163.5 Q824,163 826.4,162 L929.6,131" fill="none" stroke="#000" stroke-width="1.5" stroke-linejoin="round" stroke-linecap="round" />
<path d="M880.2,126.2 L926.4,115.7" fill="none" stroke="#000" stroke-width="1.4" stroke-linejoin="round" stroke-linecap="round" />
<path d="M761.6,154.6 L812,180.5 Q818,183 826,182 L931,147.4" fill="none" stroke="#000" stroke-width="1.5" stroke-linejoin="round" stroke-linecap="round" />
<path d="M766.4,141 Q762,146 761.6,154.6 M813.8,163.5 L813.2,181.5 M826.4,162 L826.4,182 M929.6,131 L931,147.4" fill="none" stroke="#000" stroke-width="1.4" stroke-linejoin="round" stroke-linecap="round" />
<path d="M746,152.2 Q744,157 749.6,159.4 L814.4,188.2 Q820,190 826,188.5 L944,141.4 Q949,138 947.6,133 Q946,130 939.2,128.2 L930,125" fill="none" stroke="#000" stroke-width="1.5" stroke-linejoin="round" stroke-linecap="round" />
<path d="M754.4,149.5 L761.6,147.5 M746,152.2 L754.4,149.5" fill="none" stroke="#000" stroke-width="1.3" stroke-linejoin="round" stroke-linecap="round" />
<path d="M752,166.6 L812,193 Q818,195 824,193 L932,150" fill="none" stroke="#000" stroke-width="1.3" stroke-linejoin="round" stroke-linecap="round" />
<path d="M846,113 Q843,124 856,127.5 Q872,130 888,126.5 Q898,123.5 898.4,118" fill="none" stroke="#000" stroke-width="1.4" stroke-linejoin="round" stroke-linecap="round" />
<ellipse cx="865.2" cy="118.2" rx="15" ry="7" transform="rotate(0 865.2 118.2)" fill="none" stroke="#000" stroke-width="1.5"/>
<ellipse cx="865.2" cy="114.7" rx="15" ry="7.4" transform="rotate(0 865.2 114.7)" fill="#fff" stroke="#000" stroke-width="1.6"/>
<polygon points="841,106.6 863.4,96.8 863.4,107.3 841,115.7" fill="#fff" stroke="#000" stroke-width="1.0" stroke-linejoin="round" />
<path d="M842,113 L848,104 M846.5,112.5 L853.5,101.5 M851,110.5 L858,99.5 M855.5,108.5 L862.5,98.5 M859.5,107.5 L863,102" fill="none" stroke="#000" stroke-width="1.8" stroke-linejoin="round" stroke-linecap="round" />
<line x1="834" y1="126.3" x2="852.5" y2="131.7" stroke="#000" stroke-width="6.5" stroke-linecap="round"/>
<line x1="854" y1="143.8" x2="873" y2="138" stroke="#000" stroke-width="7" stroke-linecap="round"/>
<line x1="837.2" y1="66" x2="837.2" y2="122.2" stroke="#000" stroke-width="1.3" stroke-linecap="round"/>
<line x1="883" y1="59" x2="865" y2="97" stroke="#000" stroke-width="1.3" stroke-linecap="round"/>
<line x1="869.6" y1="142.6" x2="946.4" y2="176.2" stroke="#000" stroke-width="1.3" stroke-linecap="round"/>
<line x1="757" y1="108" x2="757.6" y2="211" stroke="#000" stroke-width="1.3" stroke-linecap="round"/>
<line x1="779.6" y1="100.6" x2="773.6" y2="181" stroke="#000" stroke-width="1.3" stroke-linecap="round"/>
<path d="M748,182.7 Q748.5,178 753.5,177.3 L760.3,177.3 L790,188 L790,250.3 Q789.5,254 785,255.5 L781.9,256.5" fill="none" stroke="#000" stroke-width="1.5" stroke-linejoin="round" stroke-linecap="round" />
<path d="M748,182.7 Q749,185 755,187 L775,194.9 Q779,196.5 779.8,200 L781.9,254.3 Q781,257.5 776,257 L755,248.5 Q748.5,246 748.5,240 Z" fill="none" stroke="#000" stroke-width="1.6" stroke-linejoin="round" stroke-linecap="round" />
<path d="M779.8,196.5 L790,188 M784.6,192 L785.5,252" fill="none" stroke="#000" stroke-width="1.3" stroke-linejoin="round" stroke-linecap="round" />
<path d="M754.9,211 L769.7,216 L769.7,222.5 L754.9,217.5 Z" fill="#000" stroke="none"/>
<path d="M763,180 Q762,182 765,183.5 L777,187.5 Q780,187.5 779,185 L767,180.5 Q764,179.5 763,180 Z" fill="#000" stroke="none"/>
<ellipse cx="817" cy="229" rx="23.5" ry="25" transform="rotate(-10 817 229)" fill="none" stroke="#000" stroke-width="1.5"/>
<ellipse cx="809" cy="236" rx="17.6" ry="18.5" transform="rotate(-10 809 236)" fill="none" stroke="#000" stroke-width="1.4"/>
<ellipse cx="805" cy="234" rx="13.5" ry="16" transform="rotate(-10 805 234)" fill="none" stroke="#000" stroke-width="1.5"/>
<ellipse cx="803" cy="234.5" rx="10" ry="12" transform="rotate(-10 803 234.5)" fill="none" stroke="#000" stroke-width="1.4"/>
<ellipse cx="802.7" cy="234.5" rx="8.3" ry="10.8" transform="rotate(-10 802.7 234.5)" fill="#000" stroke="#000" stroke-width="0"/>
<path d="M784.3,211 L798.5,204.2 L804.2,203.3 L805.2,208 L796.6,211 L797.6,215.6 L792.8,216.6 L785.2,217.5 Z" fill="none" stroke="#000" stroke-width="1.5" stroke-linejoin="round" stroke-linecap="round" />
<path d="M795,194.5 L795.5,204 M813,196.5 L813.5,202" fill="none" stroke="#000" stroke-width="1.3" stroke-linejoin="round" stroke-linecap="round" />
<line x1="862.5" y1="224" x2="816" y2="231" stroke="#000" stroke-width="1.3" stroke-linecap="round"/>
<polygon points="894.8,202 934.5,185.5 935.5,204 893.7,220.6" fill="none" stroke="#000" stroke-width="2.0" stroke-linejoin="round" />
<g transform="rotate(-23 915 203)" font-family="Liberation Sans" font-weight="bold" font-size="6.5" fill="#000" stroke="#000" stroke-width="0.3"><text x="896" y="202.5" textLength="28" lengthAdjust="spacingAndGlyphs">HONDA</text><text x="905" y="209.5" textLength="29" lengthAdjust="spacingAndGlyphs">EB 2500</text></g>
<path d="M940.2,185.2 L946.5,181 L964.4,175.7 Q970,175 972.8,180 L956,186.2 L943.4,188.3 Z" fill="none" stroke="#000" stroke-width="1.6" stroke-linejoin="round" stroke-linecap="round" />
<path d="M812.6,383 Q812.5,376 818.2,373.4 L868,352.7 Q872,351 876.5,351.9 L883.2,353.6 L919,369.5 Q923,372 923.2,377.6 L926.7,390.2" fill="none" stroke="#000" stroke-width="1.6" stroke-linejoin="round" stroke-linecap="round" />
<path d="M813,383.5 L853,396 Q860,397.8 867.2,397.2 L923.5,381.5" fill="none" stroke="#000" stroke-width="1.5" stroke-linejoin="round" stroke-linecap="round" />
<path d="M811.2,389.5 L854,405 Q860,406.8 865.8,406.3 L927,391.6" fill="none" stroke="#000" stroke-width="1.5" stroke-linejoin="round" stroke-linecap="round" />
<path d="M812.6,383 L811.2,393" fill="none" stroke="#000" stroke-width="1.4" stroke-linejoin="round" stroke-linecap="round" />
<path d="M807.7,395.1 Q806,399 808.4,400.5 L854,418 Q860,419.5 866,418 L929,395 Q932,392.5 930.2,389.5 L927,388" fill="none" stroke="#000" stroke-width="1.6" stroke-linejoin="round" stroke-linecap="round" />
<path d="M811.9,405.6 L856,421 L930,396.5" fill="none" stroke="#000" stroke-width="1.2" stroke-linejoin="round" stroke-linecap="round" />
<path d="M812.6,407.7 L814,411 L830.8,418.9" fill="none" stroke="#000" stroke-width="1.2" stroke-linejoin="round" stroke-linecap="round" />
<path d="M857,368.8 Q850.5,368.8 848.4,372.5 Q848,375.5 852,377 L882.6,390.2 L903.6,382 L878.4,370.6" fill="none" stroke="#000" stroke-width="1.4" stroke-linejoin="round" stroke-linecap="round" />
<path d="M851.5,373.5 Q852.5,375.5 856,376" fill="none" stroke="#000" stroke-width="1.2" stroke-linejoin="round" stroke-linecap="round" />
<path d="M856,377.6 L878,375" fill="none" stroke="#000" stroke-width="1.1" stroke-linejoin="round" stroke-linecap="round" />
<ellipse cx="867.2" cy="373.5" rx="11.2" ry="5.6" transform="rotate(0 867.2 373.5)" fill="none" stroke="#000" stroke-width="1.4"/>
<ellipse cx="867.2" cy="370.6" rx="11.2" ry="5.6" transform="rotate(0 867.2 370.6)" fill="#fff" stroke="#000" stroke-width="1.5"/>
<line x1="837" y1="382.5" x2="853" y2="387" stroke="#000" stroke-width="6" stroke-linecap="round"/>
<line x1="815.5" y1="328.4" x2="837.1" y2="378.3" stroke="#000" stroke-width="1.3" stroke-linecap="round"/>
</svg></body></html>
